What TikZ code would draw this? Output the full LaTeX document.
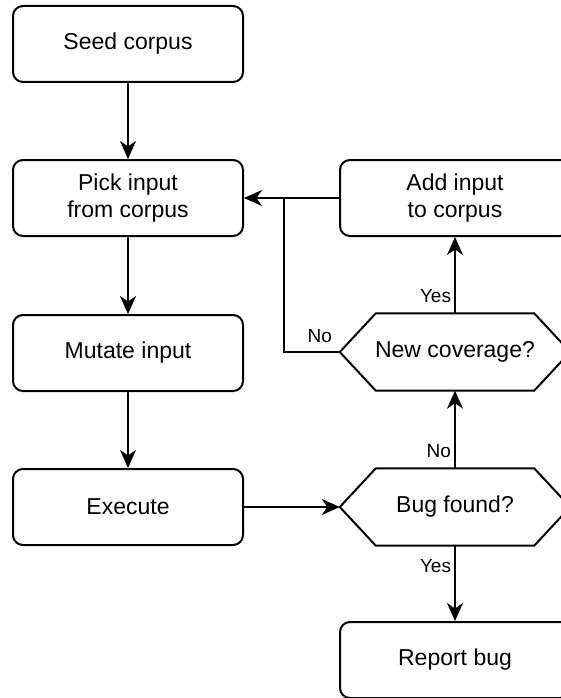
\documentclass[tikz,border=0pt]{standalone}
\usepackage{fontspec}
\setmainfont{Liberation Sans}
\usetikzlibrary{arrows.meta,calc}

\tikzset{
  every picture/.style={x=1pt,y=-1pt},
  box/.style={draw, line width=2pt, rounded corners=10pt, minimum width=230pt,
    minimum height=76pt, align=center, font=\fontsize{23}{27.5}\selectfont, inner sep=0pt},
  decision/.style={minimum width=230pt, minimum height=77pt, align=center,
    font=\fontsize{23}{27.5}\selectfont, inner sep=0pt},
  hexa/.style={line width=2pt, line join=miter},
  arr/.style={line width=2pt, -{Stealth[length=18pt,width=16pt,inset=5.5pt]}},
  link/.style={line width=2pt},
  lbl/.style={font=\fontsize{19}{22}\selectfont, inner sep=1pt},
}

\begin{document}
\begin{tikzpicture}
\useasboundingbox (0,0) rectangle (561,698);
\clip (0,0) rectangle (561,698);

% main pipeline on the left
\node[box] (seed)   at (128,44)  {Seed corpus};
\node[box] (pick)   at (128,198) {Pick input\\from corpus};
\node[box] (mutate) at (128,353) {Mutate input};
\node[box] (exec)   at (128,507) {Execute};

% feedback column on the right
\node[box] (add)    at (455,198) {Add input\\to corpus};
\node[decision] (newcov) at (455,352) {New coverage?};
\node[decision] (bug)    at (455,507) {Bug found?};
\node[box] (report) at (455,660) {Report bug};

% hexagonal decision outlines
\foreach \n in {newcov,bug}{
  \draw[hexa] (\n.west) -- ([xshift=36pt]\n.north west) -- ([xshift=-36pt]\n.north east)
    -- (\n.east) -- ([xshift=-36pt]\n.south east) -- ([xshift=36pt]\n.south west) -- cycle;
}

\coordinate (j) at (284,198);

% connectors
\draw[arr] (seed.south) -- (pick.north);
\draw[arr] (pick.south) -- (mutate.north);
\draw[arr] (mutate.south) -- (exec.north);
\draw[arr] (exec.east) -- (bug.west);
\draw[arr] (bug.north) -- node[lbl, pos=0.22, left=2pt] {No} (newcov.south);
\draw[arr] (bug.south) -- node[lbl, pos=0.27, left=2pt] {Yes} (report.north);
\draw[arr] (newcov.north) -- node[lbl, pos=0.22, left=2pt] {Yes} (add.south);
\draw[arr] (newcov.west) -- node[lbl, pos=0.36, above=7pt] {No} (newcov.west -| j) -- (j) -- (pick.east);
\draw[link] (add.west) -- (j);
\end{tikzpicture}
\end{document}
